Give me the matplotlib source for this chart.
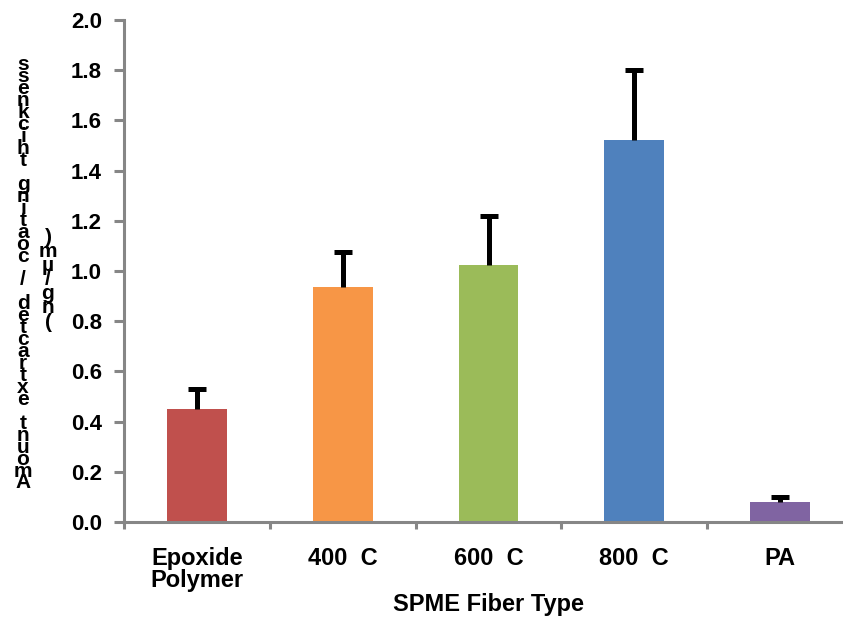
import matplotlib
matplotlib.use("Agg")
import matplotlib.pyplot as plt
import numpy as np

categories = ["Epoxide\nPolymer", "400  C", "600  C", "800  C", "PA"]
values = [0.45, 0.935, 1.025, 1.52, 0.08]
errors = [0.08, 0.14, 0.195, 0.28, 0.02]
colors = ["#C0504D", "#F79646", "#9BBB59", "#4F81BD", "#8064A2"]
xlabel = "SPME Fiber Type"
ylabel_main = "Amount extracted / coating thickness"
ylabel_unit = "(ng/µm)"

plt.rcParams['font.family'] = ['Liberation Sans', 'DejaVu Sans']
plt.rcParams['font.weight'] = 'bold'

W, H = 843, 622
fig = plt.figure(figsize=(W/100, H/100), dpi=100)
ax = fig.add_axes([124/W, 100/H, 729/W, 502/H])

x = np.arange(len(categories))
vals = np.array(values)
errs = np.array(errors)
ax.bar(x, vals, width=0.41, color=colors, zorder=2)
ax.vlines(x, vals, vals + errs, color='black', linewidth=3.6, zorder=3)
ax.plot(x, vals + errs, linestyle='none', marker='_', markersize=13,
        markeredgewidth=3.6, color='black', zorder=3)

ax.set_xlim(-0.5, len(categories) - 0.5)
ax.set_ylim(0, 2.0)
yt = np.arange(0, 2.01, 0.2)
ax.set_yticks(yt)
ax.set_yticklabels([f"{v:.1f}" for v in yt])
ax.set_xticks(x)
ax.set_xticklabels(categories)
ax.set_xticks(np.arange(-0.5, len(categories), 1.0), minor=True)

grey = "#868686"
for s in ['top', 'right']:
    ax.spines[s].set_visible(False)
for s in ['left', 'bottom']:
    ax.spines[s].set_color(grey)
    ax.spines[s].set_linewidth(2.2)

ax.tick_params(axis='y', direction='out', length=7, width=2.2, color=grey,
               labelsize=16, pad=9)
ax.tick_params(axis='x', which='major', length=0, labelsize=17, pad=18)
ax.tick_params(axis='x', which='minor', direction='out', length=5, width=2.2, color=grey)
for lab in ax.get_xticklabels() + ax.get_yticklabels():
    lab.set_fontweight('bold')
for lab in ax.get_xticklabels():
    lab.set_linespacing(0.95)
ax.set_xlabel(xlabel, fontsize=17, fontweight='bold', labelpad=1)

# stacked y-axis label (as rendered in the original)
chars = list(ylabel_main)
n = len(chars)
y_bottom, y_top = 483, 65
dy = (y_bottom - y_top) / (n - 1)
for i, ch in enumerate(chars):
    if ch == ' ':
        continue
    fig.text(23/W, 1 - (y_bottom - i*dy)/H, ch, fontsize=15, fontweight='bold',
             ha='center', va='center')
chars2 = list(ylabel_unit)
y2_bottom, y2_top = 322, 238
dy2 = (y2_bottom - y2_top) / (len(chars2) - 1)
for i, ch in enumerate(chars2):
    fig.text(48/W, 1 - (y2_bottom - i*dy2)/H, ch, fontsize=15, fontweight='bold',
             ha='center', va='center')

fig.savefig("out.png", dpi=100)
